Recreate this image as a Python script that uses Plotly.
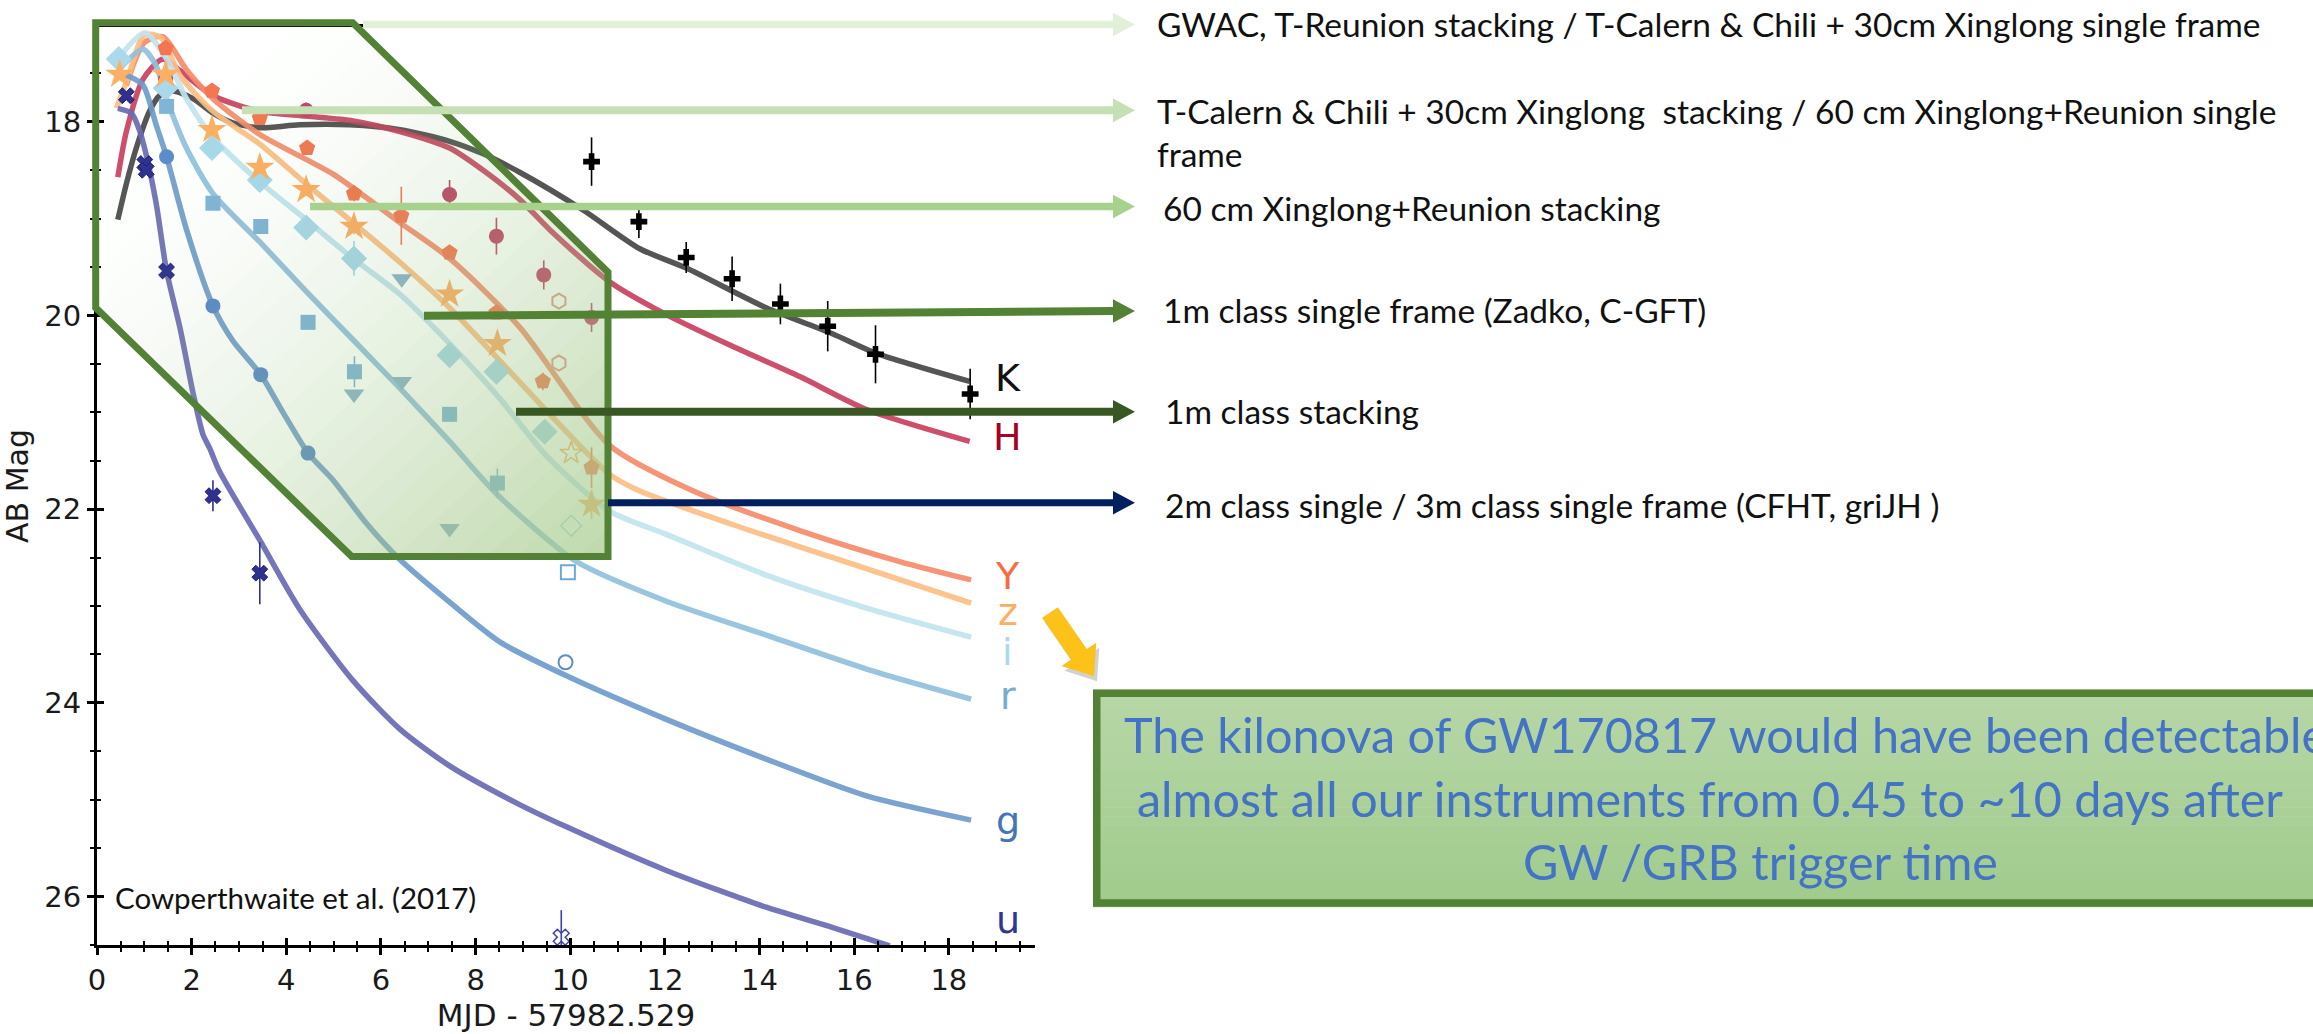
import plotly.graph_objects as go

# ---------------- light-curve data: days since MJD 57982.529 vs AB magnitude ----------------
# model curves per band
K_days = [0.44, 0.62, 0.83, 1.11, 1.32, 1.61, 2.03, 2.45, 2.87, 3.44, 4.28, 5.34, 6.40, 7.45, 8.16, 8.93, 10.27, 11.47, 12.45, 14.14, 15.55, 16.47, 18.44]
K_mag = [19.01, 18.64, 18.27, 17.89, 17.73, 17.68, 17.76, 17.91, 18.01, 18.06, 18.03, 18.03, 18.08, 18.20, 18.33, 18.52, 18.91, 19.31, 19.51, 19.92, 20.19, 20.39, 20.68]

H_days = [0.44, 0.62, 0.97, 1.39, 1.75, 2.45, 3.44, 4.42, 5.41, 6.40, 7.45, 8.16, 8.93, 9.56, 10.83, 12.03, 13.44, 14.85, 16.26, 18.44]
H_mag = [18.57, 18.10, 17.56, 17.35, 17.47, 17.73, 17.89, 17.94, 17.99, 18.10, 18.27, 18.50, 18.80, 19.11, 19.65, 19.99, 20.32, 20.63, 20.97, 21.30]

Y_days = [0.62, 1.00, 1.39, 1.89, 2.45, 3.44, 4.99, 6.40, 7.45, 8.93, 10.83, 12.59, 14.85, 16.96, 18.47]
Y_mag = [17.62, 17.18, 17.12, 17.46, 17.76, 18.13, 18.54, 19.04, 19.41, 20.12, 21.34, 21.81, 22.22, 22.54, 22.73]

z_days = [0.41, 0.62, 1.00, 1.35, 1.75, 2.45, 3.44, 4.42, 5.41, 6.40, 7.45, 8.44, 10.83, 11.46, 13.44, 15.55, 18.47]
z_mag = [17.86, 17.59, 17.10, 17.13, 17.52, 17.89, 18.23, 18.64, 19.04, 19.45, 19.92, 20.43, 21.64, 21.81, 22.16, 22.50, 22.97]

i_days = [0.44, 1.01, 1.47, 1.89, 2.45, 3.44, 4.42, 5.41, 6.40, 7.45, 8.50, 9.50, 10.83, 12.03, 14.14, 16.26, 18.47]
i_mag = [17.35, 17.08, 17.35, 17.76, 18.16, 18.62, 19.01, 19.41, 19.78, 20.29, 20.85, 21.45, 22.02, 22.26, 22.68, 23.02, 23.32]

r_days = [0.44, 0.97, 1.25, 1.47, 1.89, 2.45, 3.44, 4.42, 5.41, 6.40, 7.45, 8.46, 10.13, 12.03, 14.14, 16.26, 18.47]
r_mag = [17.47, 17.25, 17.42, 17.76, 18.27, 18.74, 19.24, 19.75, 20.25, 20.75, 21.30, 21.85, 22.54, 22.95, 23.30, 23.65, 23.96]

g_days = [0.44, 0.62, 0.97, 1.25, 1.47, 1.89, 2.45, 2.87, 3.46, 3.93, 4.46, 4.99, 5.70, 6.40, 7.45, 8.51, 9.92, 12.03, 14.14, 16.26, 18.47]
g_mag = [17.52, 17.52, 17.62, 18.03, 18.36, 19.11, 19.90, 20.26, 20.61, 21.00, 21.42, 21.70, 22.15, 22.52, 22.96, 23.37, 23.72, 24.17, 24.58, 24.96, 25.21]

u_days = [0.44, 0.73, 0.90, 1.04, 1.25, 1.47, 1.75, 2.03, 2.24, 2.38, 2.59, 3.44, 4.28, 5.41, 6.40, 7.45, 8.93, 9.92, 12.03, 14.14, 15.55, 16.75]
u_mag = [17.86, 17.91, 18.09, 18.34, 18.84, 19.54, 20.12, 20.80, 21.23, 21.37, 21.61, 22.32, 23.03, 23.77, 24.27, 24.65, 25.05, 25.28, 25.73, 26.11, 26.32, 26.51]

# photometry
K_obs_days = [10.45, 11.45, 12.45, 13.42, 14.44, 15.44, 16.45, 18.45]
K_obs_mag = [18.41, 19.03, 19.40, 19.62, 19.88, 20.11, 20.40, 20.81]
K_obs_err = [0.25, 0.17, 0.16, 0.23, 0.21, 0.26, 0.30, 0.26]

H_obs_days = [1.45, 4.42, 7.45, 8.44, 9.44, 10.45]
H_obs_mag = [17.55, 17.88, 18.75, 19.18, 19.58, 20.02]
H_obs_err = [0.04, 0.08, 0.15, 0.19, 0.15, 0.15]

Y_obs_days = [1.45, 2.43, 3.44, 4.44, 5.43, 6.43, 7.45, 8.44, 9.42, 10.45]
Y_obs_mag = [17.24, 17.68, 17.96, 18.27, 18.74, 18.97, 19.35, 19.97, 20.68, 21.57]
Y_obs_err = [0.04, 0.04, 0.04, 0.04, 0.08, 0.30, 0.05, 0.05, 0.09, 0.21]

z_obs_days = [0.48, 1.45, 2.43, 3.44, 4.42, 5.43, 7.45, 8.46, 10.45]
z_obs_mag = [17.51, 17.51, 18.08, 18.47, 18.70, 19.08, 19.78, 20.29, 21.95]
z_obs_err = [0.03, 0.03, 0.03, 0.03, 0.03, 0.08, 0.05, 0.05, 0.15]

i_obs_days = [0.46, 1.45, 2.43, 3.44, 4.42, 5.43, 7.45, 8.44, 9.46]
i_obs_mag = [17.35, 17.65, 18.27, 18.60, 19.09, 19.41, 20.41, 20.58, 21.20]
i_obs_err = [0.03, 0.03, 0.03, 0.03, 0.03, 0.18, 0.05, 0.05, 0.08]

r_obs_days = [1.47, 2.45, 3.46, 4.46, 5.44, 7.45, 8.46]
r_obs_mag = [17.84, 18.84, 19.08, 20.07, 20.58, 21.02, 21.73]
r_obs_err = [0.03, 0.03, 0.03, 0.03, 0.16, 0.04, 0.15]

r_tri_days = [5.43, 6.44, 6.44, 7.45]
r_tri_mag = [20.81, 19.62, 20.68, 22.20]

g_obs_days = [1.47, 2.45, 3.46, 4.46]
g_obs_mag = [18.36, 19.90, 20.61, 21.42]

u_obs_days = [0.62, 1.01, 1.04, 1.47, 2.45, 3.44]
u_obs_mag = [17.73, 18.43, 18.50, 19.54, 21.86, 22.66]
u_obs_err = [0.04, 0.04, 0.04, 0.04, 0.16, 0.32]

# late-time points drawn with open symbols
late_hex_days = [9.76, 9.76]
late_hex_mag = [19.85, 20.49]
late_z_days = [10.02]
late_z_mag = [21.42]
late_i_days = [10.02]
late_i_mag = [22.17]
late_r_days = [9.95]
late_r_mag = [22.65]
late_g_days = [9.90]
late_g_mag = [23.58]
late_u_days = [9.81]
late_u_mag = [26.42]
late_u_err = [0.28]

# band labels at the end of each curve
band_names = ["K", "H", "Y", "z", "i", "r", "g", "u"]
band_label_mag = [20.645, 21.25, 22.69, 23.06, 23.47, 23.93, 25.22, 26.24]
band_label_day = 19.24

# instrument depth annotations
depth_texts = [
    "GWAC, T-Reunion stacking / T-Calern &amp; Chili + 30cm Xinglong single frame",
    "T-Calern &amp; Chili + 30cm Xinglong  stacking / 60 cm Xinglong+Reunion single",
    "frame",
    "60 cm Xinglong+Reunion stacking",
    "1m class single frame (Zadko, C-GFT)",
    "1m class stacking",
    "2m class single / 3m class single frame (CFHT, griJH )",
]

# ---------------- styling ----------------
line_col = {"K": "#474747", "H": "#c9415f", "Y": "#f58d6a", "z": "#fdbe84",
            "i": "#c2e4ef", "r": "#91c1dd", "g": "#6f9ccc", "u": "#6a6ab4"}
mark_col = {"K": "#000000", "H": "#c24466", "Y": "#f47650", "z": "#fdb063",
            "i": "#a9d9ea", "r": "#7fb6d8", "g": "#5b8dca", "u": "#2e3192"}
label_col = {"K": "#111111", "H": "#a50026", "Y": "#f46d43", "z": "#fdae61",
             "i": "#abd9e9", "r": "#74add1", "g": "#4575b4", "u": "#313695"}

W, H = 2313, 1034
ML, MR, MT, MB = 97, 1278, 27, 71
PW, PH = W - ML - MR, H - MT - MB
X_RANGE = [0, 19.82]
Y_RANGE = [26.5, 17.02]


def to_paper(x, y):
    """pixel position on the page -> paper coordinates"""
    return (x - ML) / PW, (H - MB - y) / PH


def path_of(points):
    parts = []
    for k, (x, y) in enumerate(points):
        px, py = to_paper(x, y)
        parts.append(("M" if k == 0 else "L") + f"{px:.5f},{py:.5f}")
    return " ".join(parts) + " Z"


def clip(poly, a, b, c):
    """keep the part of poly with a*x + b*y <= c"""
    out = []
    n = len(poly)
    for k in range(n):
        P, Q = poly[k], poly[(k + 1) % n]
        fp = a * P[0] + b * P[1] - c
        fq = a * Q[0] + b * Q[1] - c
        if fp <= 0:
            out.append(P)
        if (fp < 0 < fq) or (fq < 0 < fp):
            s = fp / (fp - fq)
            out.append((P[0] + s * (Q[0] - P[0]), P[1] + s * (Q[1] - P[1])))
    return out


fig = go.Figure()

curves = [("K", K_days, K_mag), ("H", H_days, H_mag), ("Y", Y_days, Y_mag),
          ("z", z_days, z_mag), ("i", i_days, i_mag), ("r", r_days, r_mag),
          ("g", g_days, g_mag), ("u", u_days, u_mag)]
for name, d, m in curves:
    fig.add_trace(go.Scatter(x=d, y=m, mode="lines", name=name,
                             line=dict(color=line_col[name], width=5.5, shape="spline", smoothing=0.7),
                             opacity=0.92, showlegend=False, hoverinfo="skip"))


def add_points(d, m, color, symbol, size, err=None, line_w=0, line_c=None):
    kw = {}
    if err is not None:
        kw["error_y"] = dict(type="data", array=err, thickness=1.6, width=0, color=color)
    fig.add_trace(go.Scatter(
        x=d, y=m, mode="markers", showlegend=False, hoverinfo="skip",
        marker=dict(color=color, symbol=symbol, size=size,
                    line=dict(width=line_w, color=line_c or color)), **kw))


add_points(H_obs_days, H_obs_mag, mark_col["H"], "circle", 15, H_obs_err)
add_points(Y_obs_days, Y_obs_mag, mark_col["Y"], "pentagon", 17, Y_obs_err)
add_points(i_obs_days, i_obs_mag, mark_col["i"], "diamond", 20, i_obs_err)
add_points(r_obs_days, r_obs_mag, mark_col["r"], "square", 15, r_obs_err)
add_points(r_tri_days, r_tri_mag, "#8db5cc", "triangle-down", 18)
add_points(z_obs_days, z_obs_mag, mark_col["z"], "star", 22, z_obs_err)
add_points(g_obs_days, g_obs_mag, mark_col["g"], "circle", 15)
add_points(u_obs_days, u_obs_mag, mark_col["u"], "x", 14, u_obs_err, 1, "#1d1f6e")
add_points(K_obs_days, K_obs_mag, mark_col["K"], "cross", 14, K_obs_err)

add_points(late_hex_days, late_hex_mag, "#e49a8c", "hexagon-open", 15, None, 2)
add_points(late_z_days, late_z_mag, mark_col["z"], "star-open", 17, None, 1.5)
add_points(late_i_days, late_i_mag, mark_col["i"], "diamond-open", 16, None, 1.5)
add_points(late_r_days, late_r_mag, "#6aaad8", "square-open", 14, None, 2)
add_points(late_g_days, late_g_mag, mark_col["g"], "circle-open", 14, None, 2)
add_points(late_u_days, late_u_mag, "#3d42a8", "x-open", 14, late_u_err, 1.5)

# companion axes carrying the inner halves of the tick marks
fig.add_trace(go.Scatter(x=[], y=[], xaxis="x2", yaxis="y2", showlegend=False, hoverinfo="skip"))

shapes = []

# ---- detectability region: gradient-filled hexagon ----
region = [(95.7, 22.7), (352.7, 22.7), (608.0, 277.0), (608.0, 567.0), (351.7, 567.0), (95.7, 313.3)]
g0, g1 = (95.7, 22.7), (608.0, 567.0)
dx, dy = g1[0] - g0[0], g1[1] - g0[1]
L2 = dx * dx + dy * dy
N = 36
prev = 0.0
for k in range(1, N):
    t = k / N
    A = 0.78 * t ** 2
    a = 1 - (1 - A) / (1 - prev)
    prev = A
    c = -(t * L2 + g0[0] * dx + g0[1] * dy)
    piece = clip(region, -dx, -dy, c)
    if len(piece) >= 3:
        shapes.append(dict(type="path", xref="paper", yref="paper", path=path_of(piece),
                           fillcolor=f"rgba(176,212,152,{a:.4f})", line=dict(width=0), layer="above"))
shapes.append(dict(type="path", xref="paper", yref="paper", path=path_of(region),
                   fillcolor="rgba(0,0,0,0)", line=dict(color="#538135", width=7), layer="above"))

# ---- horizontal depth arrows ----
TIP_X, HEAD_L, HEAD_H = 1135, 22, 12
arrow_rows = [  # (start x, start y, end y, colour, thickness)
    (363, 24.5, 24.5, "#e2efd9", 7.5),
    (242, 112.0, 112.0, "#c5e0b4", 8),
    (310, 210.0, 210.0, "#a9d18e", 7.5),
    (424, 321.5, 316.5, "#548235", 8),
    (516, 419.3, 419.3, "#385723", 8),
    (608, 512.0, 512.0, "#002060", 7),
]
for x0, y0, y1, col, w in arrow_rows:
    xe = TIP_X - HEAD_L + 1
    ye = y0 + (y1 - y0) * (xe - x0) / (TIP_X - x0)
    p0, p1 = to_paper(x0, y0), to_paper(xe, ye)
    shapes.append(dict(type="line", xref="paper", yref="paper", x0=p0[0], y0=p0[1], x1=p1[0], y1=p1[1],
                       line=dict(color=col, width=w), layer="above"))
    head = [(TIP_X - HEAD_L, y1 - HEAD_H), (TIP_X, y1), (TIP_X - HEAD_L, y1 + HEAD_H)]
    shapes.append(dict(type="path", xref="paper", yref="paper", path=path_of(head),
                       fillcolor=col, line=dict(width=0), layer="above"))

# ---- yellow pointer arrow ----
tail, tip = (1050.0, 624.0), (1094.0, 689.0)
vx, vy = tip[0] - tail[0], tip[1] - tail[1]
ln = (vx * vx + vy * vy) ** 0.5
ux, uy = vx / ln, vy / ln
nx, ny = -uy, ux
hb = (tip[0] - ux * 27, tip[1] - uy * 27)


def off(p, s):
    return (p[0] + nx * s, p[1] + ny * s)


yellow = [off(tail, 9.5), off(hb, 9.5), off(hb, 21), tip, off(hb, -21), off(hb, -9.5), off(tail, -9.5)]
shadow = [(x + 3, y + 5) for x, y in yellow]
shapes.append(dict(type="path", xref="paper", yref="paper", path=path_of(shadow),
                   fillcolor="rgba(90,90,90,0.28)", line=dict(width=0), layer="above"))
shapes.append(dict(type="path", xref="paper", yref="paper", path=path_of(yellow),
                   fillcolor="#fcc21a", line=dict(width=0), layer="above"))

# ---- conclusion box with vertical gradient ----
bx0, bx1, by0, by1 = 1093, 2440, 702.5, 924.0
NB = 24
for k in range(NB):
    ya, yb = by0 + (by1 - by0) * k / NB, by0 + (by1 - by0) * (k + 1) / NB + 0.6
    f = (k + 0.5) / NB
    col = (round(183 - 23 * f), round(215 - 12 * f), round(167 - 27 * f))
    pa, pb = to_paper(bx0, ya), to_paper(bx1, yb)
    shapes.append(dict(type="rect", xref="paper", yref="paper", x0=pa[0], y0=pb[1], x1=pb[0], y1=pa[1],
                       fillcolor=f"rgb{col}", line=dict(width=0), layer="above"))
pa, pb = to_paper(bx0 + 3.75, by0 + 3.75), to_paper(bx1, by1 - 3.75)
shapes.append(dict(type="rect", xref="paper", yref="paper", x0=pa[0], y0=pb[1], x1=pb[0], y1=pa[1],
                   fillcolor="rgba(0,0,0,0)", line=dict(color="#538135", width=7.5), layer="above"))

annotations = []

# band labels
for name, m in zip(band_names, band_label_mag):
    annotations.append(dict(x=band_label_day, y=m, xref="x", yref="y", text=name, showarrow=False,
                            xanchor="center", yanchor="middle",
                            font=dict(family="DejaVu Sans", size=38, color=label_col[name])))

annotations.append(dict(x=to_paper(113, 0)[0], y=to_paper(0, 915)[1], xref="paper", yref="paper",
                        text="Cowperthwaite et al. (2017)", showarrow=False, xanchor="left", yanchor="middle",
                        font=dict(family="Lato", size=29.5, color="#111111")))

text_pos = [(1155, 24), (1155, 113), (1155, 157), (1161, 212), (1161, 316), (1163, 419), (1163, 514)]
for txt, (x, y) in zip(depth_texts, text_pos):
    px, py = to_paper(x, y)
    annotations.append(dict(x=px, y=py, xref="paper", yref="paper", text=txt, showarrow=False,
                            xanchor="left", yanchor="middle",
                            font=dict(family="Lato", size=33.5, color="#111111")))

box_lines = [
    ("The kilonova of GW170817 would have been detectable", 1122, 748, "left"),
    ("almost all our instruments from 0.45 to ~10 days after", 1135, 813, "left"),
    ("GW /GRB trigger time", 1760, 877, "center"),
]
for txt, x, y, anc in box_lines:
    px, py = to_paper(x, y)
    annotations.append(dict(x=px, y=py, xref="paper", yref="paper", text=txt, showarrow=False,
                            xanchor=anc, yanchor="middle",
                            font=dict(family="Lato", size=48.5, color="#4472c4")))

axis_font = dict(family="DejaVu Sans", size=29, color="#1a1a1a")
common = dict(showgrid=False, zeroline=False, tickcolor="black", tickwidth=2.5, ticklen=7)

fig.update_layout(
    width=W, height=H,
    margin=dict(l=ML, r=MR, t=MT, b=MB, pad=0),
    paper_bgcolor="white", plot_bgcolor="white",
    showlegend=False,
    xaxis=dict(range=X_RANGE, dtick=2, tick0=0, ticks="outside", showline=True, linecolor="black",
               linewidth=3, mirror=True, tickfont=axis_font,
               minor=dict(ticks="outside", dtick=0.5, ticklen=4, tickwidth=1.8, tickcolor="black"),
               title=dict(text="MJD - 57982.529", font=dict(family="DejaVu Sans", size=31, color="#1a1a1a"),
                          standoff=4),
               **common),
    yaxis=dict(range=Y_RANGE, dtick=2, tick0=0, ticks="outside", showline=True, linecolor="black",
               linewidth=3, mirror=False, tickfont=axis_font,
               minor=dict(ticks="outside", dtick=0.5, ticklen=4, tickwidth=1.8, tickcolor="black"),
               title=dict(text="AB Mag", font=dict(family="DejaVu Sans", size=30, color="#1a1a1a"), standoff=8),
               **common),
    xaxis2=dict(range=X_RANGE, overlaying="x", anchor="y2", side="bottom", dtick=2, tick0=0, ticks="inside",
                showticklabels=False, showline=False,
                minor=dict(ticks="inside", dtick=0.5, ticklen=4, tickwidth=1.8, tickcolor="black"), **common),
    yaxis2=dict(range=Y_RANGE, overlaying="y", anchor="x2", side="left", dtick=2, tick0=0, ticks="inside",
                showticklabels=False, showline=False,
                minor=dict(ticks="inside", dtick=0.5, ticklen=4, tickwidth=1.8, tickcolor="black"), **common),
    shapes=shapes,
    annotations=annotations,
)

fig.write_html("out.html")
